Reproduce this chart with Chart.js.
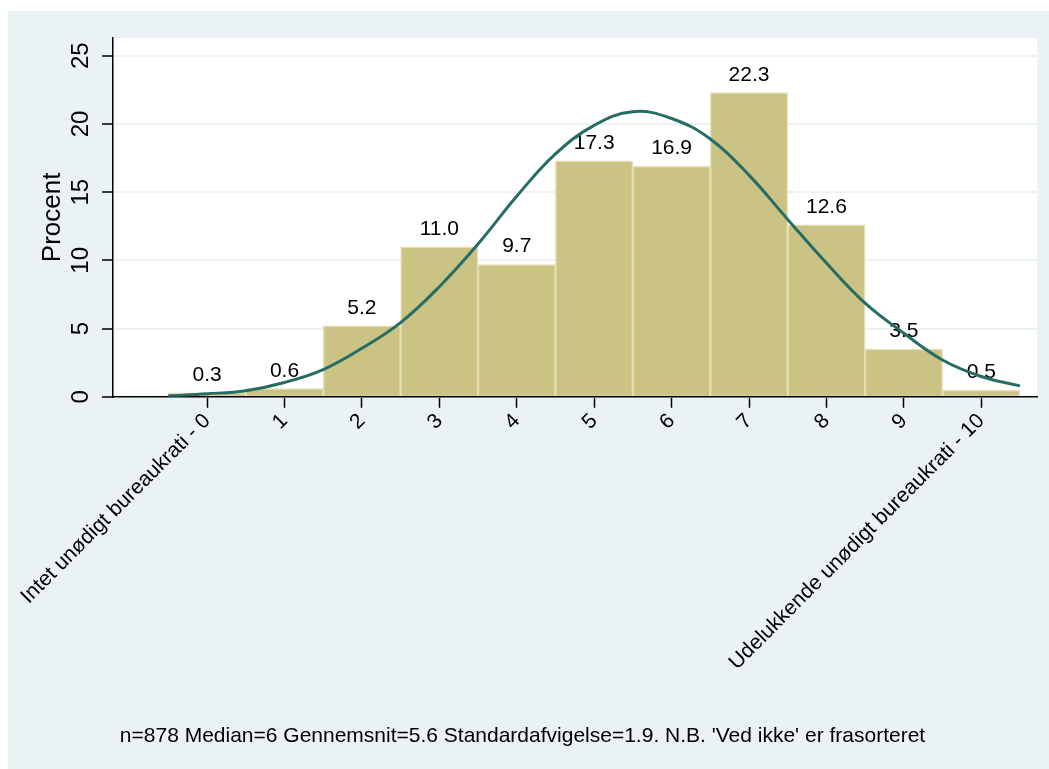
<!DOCTYPE html>
<html>
<head>
<meta charset="utf-8">
<script src="https://cdn.jsdelivr.net/npm/chart.js@4.4.0/dist/chart.umd.min.js"></script>
<style>
  body { margin: 0; background: #fff; }
  #wrap { width: 1049px; height: 769px; }
</style>
</head>
<body>
<div id="wrap"><canvas id="canvas" width="1049" height="769"></canvas></div>
<script>
// bar categories and percentages
var categories = [0, 1, 2, 3, 4, 5, 6, 7, 8, 9, 10];
var percent = [0.3, 0.6, 5.2, 11.0, 9.7, 17.3, 16.9, 22.3, 12.6, 3.5, 0.5];
var tickLabels = ['Intet unødigt bureaukrati - 0', '1', '2', '3', '4', '5', '6', '7', '8', '9', 'Udelukkende unødigt bureaukrati - 10'];

// normal curve, every half step
var curveX = [-0.5, 0, 0.5, 1, 1.5, 2, 2.5, 3, 3.5, 4, 4.5, 5, 5.5, 6, 6.5, 7, 7.5, 8, 8.5, 9, 9.5, 10, 10.5];
var curveY = [0.07, 0.22, 0.45, 1.05, 2.0, 3.56, 5.44, 8.07, 11.2, 14.7, 17.8, 19.9, 20.9, 20.4, 18.9, 16.25, 13.0, 9.8, 6.86, 4.66, 2.7, 1.49, 0.8];

var yTicks = [0, 5, 10, 15, 20, 25];
var footNote = "n=878 Median=6 Gennemsnit=5.6 Standardafvigelse=1.9. N.B. 'Ved ikke' er frasorteret";

var fontFamily = '"Liberation Sans", Arial, sans-serif';

var barData = categories.map(function(c, i){ return {x: c, y: percent[i]}; });
var lineData = curveX.map(function(x, i){ return {x: x, y: curveY[i]}; });

var background = {
    id: 'background',
    beforeDraw: function(chart){
        var c = chart.ctx, a = chart.chartArea;
        c.save();
        c.fillStyle = '#ffffff';
        c.fillRect(0, 0, chart.width, chart.height);
        c.fillStyle = '#EAF2F3';
        c.fillRect(8, 11, chart.width - 8, chart.height - 11);
        c.fillStyle = '#ffffff';
        c.fillRect(a.left, a.top, a.right - a.left, a.bottom - a.top);
        c.restore();
    }
};

var barLabels = {
    id: 'barLabels',
    afterDatasetDraw: function(chart, args){
        if (args.index !== 1) return;
        var c = chart.ctx, xs = chart.scales.x, ys = chart.scales.y;
        c.save();
        c.font = '21px ' + fontFamily;
        c.fillStyle = '#000';
        c.textAlign = 'center';
        c.textBaseline = 'alphabetic';
        percent.forEach(function(v, i){
            c.fillText(v.toFixed(1), xs.getPixelForValue(categories[i]), ys.getPixelForValue(v) - 12);
        });
        c.restore();
    }
};

var ctx = document.getElementById('canvas').getContext('2d');
var myChart = new Chart(ctx, {
    data: {
        datasets: [{
            type: 'line',
            data: lineData,
            borderColor: '#276D66',
            borderWidth: 3,
            pointRadius: 0,
            tension: 0.4,
            fill: false,
            order: 0
        },
        {
            type: 'bar',
            data: barData,
            backgroundColor: '#CBC384',
            borderColor: '#E4DEB2',
            borderWidth: 1.5,
            barPercentage: 1,
            categoryPercentage: 1,
            order: 1
        }]
    },
    options: {
        responsive: false,
        animation: false,
        layout: { padding: { left: 8, top: 38, right: 12, bottom: 0 } },
        plugins: {
            legend: { display: false },
            tooltip: { enabled: false },
            title: {
                display: true,
                position: 'bottom',
                text: footNote,
                color: '#000',
                font: { family: fontFamily, size: 21, weight: 'normal' },
                padding: { top: 0, bottom: 20 }
            }
        },
        scales: {
            x: {
                type: 'linear',
                min: -1.215,
                max: 10.72,
                offset: false,
                afterBuildTicks: function(scale){
                    scale.ticks = categories.map(function(v){ return {value: v}; });
                },
                afterFit: function(scale){ scale.height = 327; },
                grid: { offset: false, drawOnChartArea: false, tickLength: 11, tickColor: '#000', tickWidth: 1.5 },
                border: { color: '#000', width: 1.5 },
                ticks: {
                    autoSkip: false,
                    minRotation: 45,
                    maxRotation: 45,
                    padding: 1,
                    color: '#000',
                    font: { family: fontFamily, size: 21 },
                    callback: function(value){ return tickLabels[categories.indexOf(value)]; }
                }
            },
            y: {
                min: 0,
                max: 26.3,
                afterBuildTicks: function(scale){
                    scale.ticks = yTicks.map(function(v){ return {value: v}; });
                },
                afterFit: function(scale){ scale.width = 105; },
                grid: { color: '#EAF2F3', lineWidth: 2, tickLength: 11, tickColor: '#000', tickWidth: 1.5 },
                border: { color: '#000', width: 1.5 },
                title: {
                    display: true,
                    text: 'Procent',
                    color: '#000',
                    font: { family: fontFamily, size: 26 },
                    padding: { top: 29, bottom: 0 }
                },
                ticks: {
                    minRotation: 90,
                    maxRotation: 90,
                    crossAlign: 'center',
                    padding: 7,
                    color: '#000',
                    font: { family: fontFamily, size: 24 }
                }
            }
        }
    },
    plugins: [background, barLabels]
});
</script>
</body>
</html>
